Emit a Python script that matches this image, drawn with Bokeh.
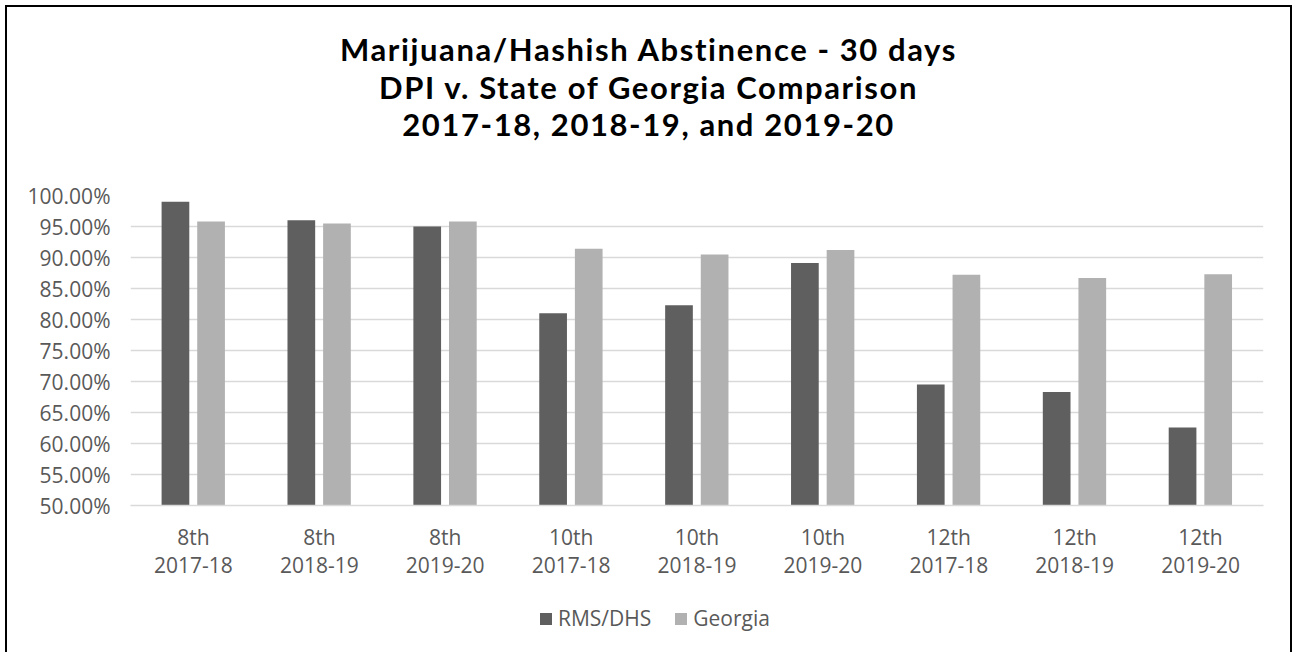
from bokeh.plotting import figure
from bokeh.layouts import column
from bokeh.models import (ColumnDataSource, FactorRange, Range1d, FixedTicker,
                          NumeralTickFormatter, Legend, LegendItem, Div)
from bokeh.transform import dodge
from bokeh.embed import file_html
from bokeh.resources import INLINE

# Grade / school-year groups
grades = ["8th", "8th", "8th", "10th", "10th", "10th", "12th", "12th", "12th"]
years = ["2017-18", "2018-19", "2019-20"] * 3
categories = [f"{g}\n{y}" for g, y in zip(grades, years)]

# Share of students reporting no marijuana/hashish use in the past 30 days
rms_dhs = [0.990, 0.960, 0.950, 0.810, 0.823, 0.891, 0.695, 0.683, 0.626]
georgia = [0.958, 0.955, 0.958, 0.914, 0.905, 0.912, 0.872, 0.867, 0.873]

series_names = ["RMS/DHS", "Georgia"]

y_ticks = [0.50, 0.55, 0.60, 0.65, 0.70, 0.75, 0.80, 0.85, 0.90, 0.95, 1.00]

title_lines = [
    "Marijuana/Hashish Abstinence - 30 days",
    "DPI v. State of Georgia Comparison",
    "2017-18, 2018-19, and 2019-20",
]

DARK = "#5f5f5f"
LIGHT = "#b1b1b1"
TEXT = "#595959"
FONT = "Open Sans"
W = 1283

source = ColumnDataSource(dict(cat=categories, rms=rms_dhs, ga=georgia))
series_cols = ["rms", "ga"]
series_colors = [DARK, LIGHT]
offsets = [-0.143, 0.14]


def add_bars(fig, x_range):
    return [fig.vbar(x=dodge("cat", off, range=x_range), top=col, bottom=0.5,
                     width=0.22, source=source, fill_color=color, line_color=None)
            for col, color, off in zip(series_cols, series_colors, offsets)]


# ---- main bar chart ----
p = figure(
    x_range=FactorRange(*categories),
    y_range=Range1d(0.5, 1.0),
    width=W, height=461,
    output_backend="svg", toolbar_location=None,
    min_border_left=123, min_border_right=27,
    min_border_top=51, min_border_bottom=100,
    background_fill_color="white", border_fill_color="white",
)
p.outline_line_color = None
add_bars(p, p.x_range)

p.yaxis.ticker = FixedTicker(ticks=y_ticks)
p.yaxis.formatter = NumeralTickFormatter(format="0.00%")
p.yaxis.axis_line_color = None
p.yaxis.major_tick_line_color = None
p.yaxis.minor_tick_line_color = None
p.yaxis.major_label_standoff = 14
p.yaxis.major_label_text_font = FONT
p.yaxis.major_label_text_font_size = "21px"
p.yaxis.major_label_text_color = TEXT

p.xaxis.axis_line_color = "#d9d9d9"
p.xaxis.axis_line_width = 1.5
p.xaxis.major_tick_line_color = None
p.xaxis.minor_tick_line_color = None
p.xaxis.major_label_standoff = 11
p.xaxis.major_label_text_font = FONT
p.xaxis.major_label_text_font_size = "21px"
p.xaxis.major_label_text_color = TEXT
p.xaxis.major_label_text_line_height = 1.0

p.xgrid.grid_line_color = None
p.ygrid.grid_line_color = "#d9d9d9"
p.ygrid.grid_line_width = 1.5

# ---- legend strip under the chart ----
# The strip shares the category axis; its value window sits above the data,
# so the swatch renderers only feed the legend.
lf = figure(
    width=W, height=50, x_range=p.x_range, y_range=Range1d(2, 3),
    output_backend="svg", toolbar_location=None,
    x_axis_type=None, y_axis_type=None, min_border=0,
    min_border_left=123, min_border_right=27,
    background_fill_color="white", border_fill_color="white",
)
lf.outline_line_color = None
lf.grid.visible = False
swatches = add_bars(lf, lf.x_range)
legend = Legend(
    items=[LegendItem(label=n, renderers=[r]) for n, r in zip(series_names, swatches)],
    orientation="horizontal", location=(408, 23),
    glyph_width=15, glyph_height=15, label_standoff=5, spacing=22,
    padding=0, margin=0, border_line_color=None, background_fill_alpha=0,
    label_text_font=FONT, label_text_font_size="21px", label_text_color=TEXT,
)
lf.add_layout(legend, "center")

# ---- three-line bold title ----
title = Div(
    text="<br>".join(title_lines),
    width=W, height=137, margin=0,
    styles={"font-family": "Lato", "font-weight": "bold",
            "font-size": "31px", "line-height": "37.5px",
            "letter-spacing": "1.6px",
            "text-align": "center", "color": "black",
            "padding-top": "24px", "box-sizing": "border-box",
            "width": f"{W}px"},
)

layout = column(title, p, lf, spacing=0,
                styles={"margin-left": "5px", "margin-top": "5px",
                        "border": "2px solid black",
                        "background-color": "white"})

open("out.html", "w").write(file_html(layout, INLINE))
